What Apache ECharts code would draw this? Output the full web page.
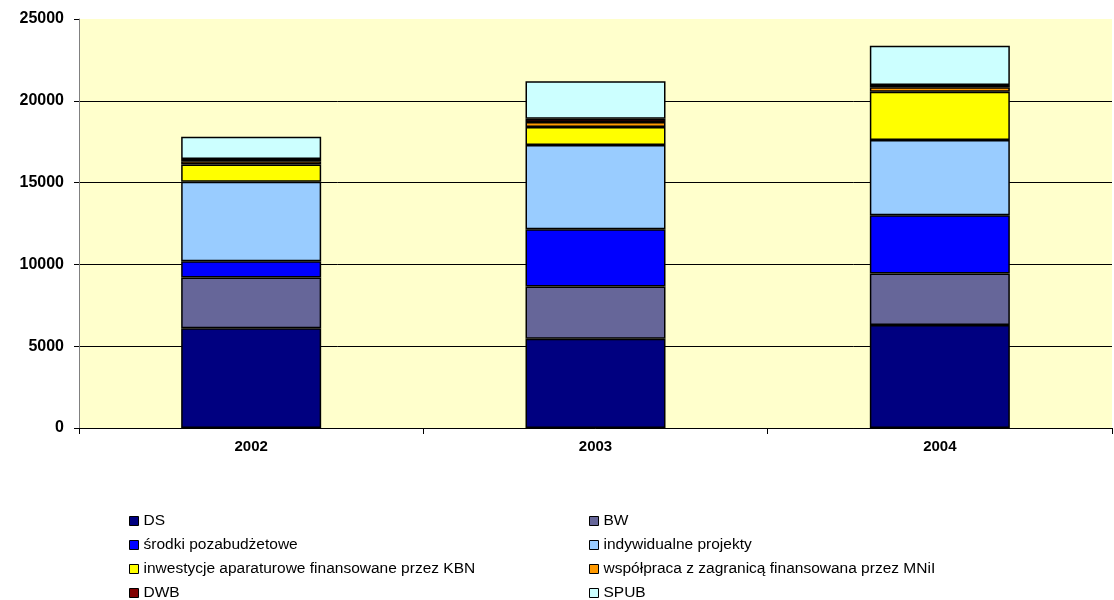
<!DOCTYPE html>
<html>
<head>
<meta charset="utf-8">
<script src="https://cdn.jsdelivr.net/npm/echarts@6/dist/echarts.min.js"></script>
<style>
  html, body { margin: 0; padding: 0; background: #fff; }
  #chart { width: 1114px; height: 600px; }
</style>
</head>
<body>
<div id="chart"></div>
<script>
// lata
var years = ['2002', '2003', '2004'];

// serie
var ds = [6100, 5450, 6300];
var bw = [3100, 3200, 3150];
var srodki = [1000, 3500, 3550];
var projekty = [4850, 5150, 4600];
var inwestycje = [1050, 1100, 2950];
var wspolpraca = [200, 300, 280];
var dwb = [150, 200, 140];
var spub = [1350, 2300, 2400];

var seriesNames = ['DS', 'BW', 'środki pozabudżetowe', 'indywidualne projekty',
  'inwestycje aparaturowe finansowane przez KBN', 'współpraca z zagranicą finansowana przez MNiI',
  'DWB', 'SPUB'];
var seriesData = [ds, bw, srodki, projekty, inwestycje, wspolpraca, dwb, spub];
var colors = ['#000080', '#666699', '#0000FF', '#99CCFF', '#FFFF00', '#FF9900', '#800000', '#CCFFFF'];

var chart = echarts.init(document.getElementById('chart'));

var series = seriesNames.map(function (name, i) {
  return {
    name: name,
    type: 'bar',
    stack: 'total',
    barWidth: 140,
    data: seriesData[i],
    itemStyle: { color: colors[i], borderColor: '#000', borderWidth: 1.5 },
    emphasis: { disabled: true }
  };
});

var legendText = { fontFamily: 'Liberation Sans, Arial', fontSize: 15.5, color: '#000' };

function makeLegend(left, names) {
  return {
    left: left, top: 508, height: 100, orient: 'vertical', itemGap: 8,
    itemWidth: 9, itemHeight: 9, icon: 'rect',
    itemStyle: { borderColor: '#000', borderWidth: 1 },
    textStyle: legendText,
    data: names
  };
}

chart.setOption({
  animation: false,
  textStyle: { fontFamily: 'Liberation Sans, Arial' },
  grid: {
    left: 79, right: 2, top: 19, bottom: 172,
    show: true, backgroundColor: '#FFFFCC', borderWidth: 0
  },
  legend: [
    makeLegend(124, [seriesNames[0], seriesNames[2], seriesNames[4], seriesNames[6]]),
    makeLegend(584, [seriesNames[1], seriesNames[3], seriesNames[5], seriesNames[7]])
  ],
  xAxis: {
    type: 'category',
    data: years,
    boundaryGap: true,
    axisLine: { lineStyle: { color: '#000', width: 1 } },
    axisTick: { show: true, length: 6, lineStyle: { color: '#000' } },
    axisLabel: { fontSize: 15, fontWeight: 'bold', color: '#000', margin: 11 }
  },
  yAxis: {
    type: 'value',
    min: 0,
    max: 25000,
    interval: 5000,
    axisLine: { show: true, lineStyle: { color: '#808080', width: 1 } },
    axisTick: { show: true, length: 5, lineStyle: { color: '#000' } },
    axisLabel: {
      fontSize: 16, fontWeight: 'bold', color: '#000', margin: 15,
      formatter: function (v) { return String(v); }
    },
    splitLine: {
      show: true,
      lineStyle: { color: ['#000', '#000', '#000', '#000', '#000', '#FFFFCC'], width: 1 }
    }
  },
  series: series
});
</script>
</body>
</html>
